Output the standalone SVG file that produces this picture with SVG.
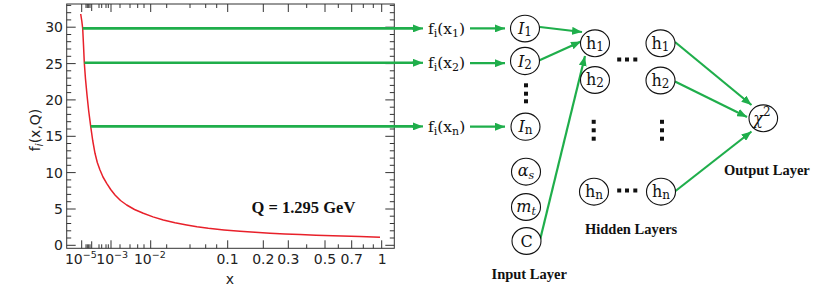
<svg xmlns="http://www.w3.org/2000/svg" width="830" height="292" viewBox="0 0 830 292">
<style>
.ax{fill:none;stroke:#333;stroke-width:1}
.tk{font-family:"DejaVu Sans",sans-serif;font-size:14px;fill:#222}
.g{fill:none;stroke:#1fae4b;stroke-width:2.6}
.ga{fill:none;stroke:#1fae4b;stroke-width:2.2;marker-end:url(#ah)}
.nd{fill:#fff;stroke:#111;stroke-width:1.1}
.nl{font-family:"DejaVu Serif",serif;font-size:16px;fill:#111;text-anchor:middle}
.fl{font-family:"DejaVu Serif",serif;font-size:15.5px;fill:#111}
.bl{font-family:"Liberation Serif","Times New Roman",serif;font-weight:bold;font-size:14.5px;fill:#111}
.dt{fill:#111}
</style>
<defs>
<marker id="ah" markerUnits="userSpaceOnUse" markerWidth="10" markerHeight="8" viewBox="0 0 10 8" refX="10" refY="4" orient="auto" preserveAspectRatio="none">
<path d="M0,0 L10,4 L0,8 z" fill="#1fae4b"/>
</marker>
</defs>

<g id="plot">
<rect class="ax" x="66.7" y="4" width="327.6" height="244.3"/>
<path class="ax" d="M66.7,245.3h9M66.7,209h9M66.7,172.6h9M66.7,136.3h9M66.7,99.9h9M66.7,63.6h9M66.7,27.2h9
M394.3,245.3h-9M394.3,209h-9M394.3,172.6h-9M394.3,136.3h-9M394.3,99.9h-9M394.3,63.6h-9M394.3,27.2h-9"/>
<path class="ax" d="M66.7,238h4.5M66.7,230.8h4.5M66.7,223.5h4.5M66.7,216.2h4.5M66.7,201.7h4.5M66.7,194.4h4.5M66.7,187.1h4.5M66.7,179.9h4.5M66.7,165.3h4.5M66.7,158.1h4.5M66.7,150.8h4.5M66.7,143.5h4.5M66.7,129h4.5M66.7,121.7h4.5M66.7,114.4h4.5M66.7,107.2h4.5M66.7,92.6h4.5M66.7,85.4h4.5M66.7,78.1h4.5M66.7,70.8h4.5M66.7,56.3h4.5M66.7,49h4.5M66.7,41.7h4.5M66.7,34.5h4.5M66.7,19.9h4.5M66.7,12.7h4.5M66.7,5.4h4.5
M394.3,238h-4.5M394.3,230.8h-4.5M394.3,223.5h-4.5M394.3,216.2h-4.5M394.3,201.7h-4.5M394.3,194.4h-4.5M394.3,187.1h-4.5M394.3,179.9h-4.5M394.3,165.3h-4.5M394.3,158.1h-4.5M394.3,150.8h-4.5M394.3,143.5h-4.5M394.3,129h-4.5M394.3,121.7h-4.5M394.3,114.4h-4.5M394.3,107.2h-4.5M394.3,92.6h-4.5M394.3,85.4h-4.5M394.3,78.1h-4.5M394.3,70.8h-4.5M394.3,56.3h-4.5M394.3,49h-4.5M394.3,41.7h-4.5M394.3,34.5h-4.5M394.3,19.9h-4.5M394.3,12.7h-4.5M394.3,5.4h-4.5"/>
<path class="ax" d="M81.7,248.3v-8M91.7,248.3v-7M111,248.3v-8M150.7,248.3v-8M227.7,248.3v-8M263.3,248.3v-8M288.3,248.3v-8M325,248.3v-8M351.7,248.3v-8M381.7,248.3v-8
M81.7,4v8M91.7,4v7M111,4v8M150.7,4v8M227.7,4v8M263.3,4v8M288.3,4v8M325,4v8M351.7,4v8M381.7,4v8"/>
<path class="ax" d="M86,248.3v-4M87.3,248.3v-4M88.7,248.3v-4M90,248.3v-4M99,248.3v-4M101.7,248.3v-4M106,248.3v-4M108.3,248.3v-4M120,248.3v-4M130,248.3v-4M137.7,248.3v-4M144,248.3v-4M166.7,248.3v-4M190,248.3v-4M205.7,248.3v-4M216.7,248.3v-4M306.7,248.3v-4M338.3,248.3v-4M363.3,248.3v-4M373.3,248.3v-4
M86,4v4M87.3,4v4M88.7,4v4M90,4v4M99,4v4M101.7,4v4M106,4v4M108.3,4v4M120,4v4M130,4v4M137.7,4v4M144,4v4M166.7,4v4M190,4v4M205.7,4v4M216.7,4v4M306.7,4v4M338.3,4v4M363.3,4v4M373.3,4v4"/>
<g class="tk" text-anchor="end">
<text x="63" y="250.3">0</text>
<text x="63" y="214">5</text>
<text x="63" y="177.6">10</text>
<text x="63" y="141.3">15</text>
<text x="63" y="104.9">20</text>
<text x="63" y="68.6">25</text>
<text x="63" y="32.2">30</text>
</g>
<g class="tk" text-anchor="middle">
<text x="80.8" y="263.5">10<tspan font-size="9.5" dy="-6">−5</tspan></text>
<text x="112.2" y="263.5">10<tspan font-size="9.5" dy="-6">−3</tspan></text>
<text x="149.8" y="263.5">10<tspan font-size="9.5" dy="-6">−2</tspan></text>
<text x="227.6" y="263.5">0.1</text>
<text x="263.3" y="263.5">0.2</text>
<text x="288.3" y="263.5">0.3</text>
<text x="325" y="263.5">0.5</text>
<text x="351.7" y="263.5">0.7</text>
<text x="382.3" y="263.5">1</text>
</g>
<text class="tk" x="230" y="284" text-anchor="middle" font-size="16">x</text>
<text class="tk" transform="translate(40,130) rotate(-90)" text-anchor="middle" font-size="16">f<tspan font-size="11" font-style="italic" dy="3">i</tspan><tspan dy="-3">(x,Q)</tspan></text>
<polyline fill="none" stroke="#e8202a" stroke-width="1.5" stroke-linejoin="round" points="80.7,14 81.8,21 82.7,28.5 83.5,45 84.3,62.7 85.5,79 87,95 88.7,111 90.7,126.3 92.7,140.5 95,153.3 97.3,162.5 100,170 103,177 106.7,183.3 110.7,189.5 115,195 120.5,200.5 126.7,205 134.5,209.5 143.3,213.3 153,216.9 163.3,220 175,222.8 186.7,225 197,226.8 208.3,228.3 224,229.9 240,231.2 255,232.3 270,233.3 285,234 300,234.6 316,235.2 333,235.7 360,236.6 380,237.3"/>
<text x="251.5" y="213" font-family="Liberation Serif,'Times New Roman',serif" font-weight="bold" font-size="16.5" fill="#111">Q = 1.295 GeV</text>
</g>

<g id="connectors">
<line class="g" x1="82.7" y1="28.4" x2="414" y2="28.4"/>
<line class="g" x1="84.3" y1="62.8" x2="414" y2="62.8"/>
<line class="g" x1="90.7" y1="126.4" x2="414" y2="126.4"/>
<line class="ga" x1="412" y1="28.4" x2="423" y2="28.4"/>
<line class="ga" x1="412" y1="62.8" x2="423" y2="62.8"/>
<line class="ga" x1="412" y1="126.4" x2="423" y2="126.4"/>
<line class="ga" x1="470" y1="28.4" x2="505" y2="28.4"/>
<line class="ga" x1="470" y1="63.2" x2="505" y2="63.2"/>
<line class="ga" x1="470" y1="126.7" x2="505" y2="126.7"/>
<line class="ga" x1="540" y1="27" x2="582" y2="32"/>
<line class="ga" x1="539" y1="60.5" x2="581" y2="41.5"/>
<line class="ga" x1="540" y1="240" x2="585" y2="56"/>
<line class="ga" x1="675" y1="42" x2="751.5" y2="105"/>
<line class="ga" x1="675" y1="81.5" x2="747" y2="117"/>
<line class="ga" x1="675.5" y1="191" x2="751.5" y2="131.5"/>
</g>

<g id="inputs-text">
<text class="fl" x="428" y="33.5">f<tspan font-size="11" dy="3">i</tspan><tspan dy="-3">(x</tspan><tspan font-size="11" dy="3">1</tspan><tspan dy="-3">)</tspan></text>
<text class="fl" x="428" y="68">f<tspan font-size="11" dy="3">i</tspan><tspan dy="-3">(x</tspan><tspan font-size="11" dy="3">2</tspan><tspan dy="-3">)</tspan></text>
<text class="fl" x="428" y="131.5">f<tspan font-size="11" dy="3">i</tspan><tspan dy="-3">(x</tspan><tspan font-size="11" dy="3">n</tspan><tspan dy="-3">)</tspan></text>
</g>

<g id="node-I1"><ellipse class="nd" cx="525" cy="28.6" rx="14.5" ry="13.3"/><text class="nl" x="525" y="34"><tspan font-style="italic">I</tspan><tspan font-size="12" dy="2">1</tspan></text></g>
<g id="node-I2"><ellipse class="nd" cx="525" cy="61" rx="14.5" ry="13.6"/><text class="nl" x="525" y="66.5"><tspan font-style="italic">I</tspan><tspan font-size="12" dy="2">2</tspan></text></g>
<g id="input-dots" class="dt"><rect x="524" y="83.3" width="4" height="4"/><rect x="524" y="91.7" width="4" height="4"/><rect x="524" y="99.3" width="4" height="4"/></g>
<g id="node-In"><ellipse class="nd" cx="525.5" cy="126.7" rx="14.5" ry="13.6"/><text class="nl" x="525.5" y="132"><tspan font-style="italic">I</tspan><tspan font-size="12" dy="2">n</tspan></text></g>
<g id="node-as"><ellipse class="nd" cx="526" cy="171.7" rx="14.5" ry="13.4"/><text class="nl" x="526" y="176" font-style="italic">α<tspan font-size="11" dy="3">s</tspan></text></g>
<g id="node-mt"><ellipse class="nd" cx="526" cy="207" rx="14.5" ry="13.4"/><text class="nl" x="526" y="211.5" font-style="italic">m<tspan font-size="11" dy="3">t</tspan></text></g>
<g id="node-C"><ellipse class="nd" cx="526.5" cy="241" rx="14.5" ry="13.4"/><text class="nl" x="526.5" y="246.5">C</text></g>
<text id="label-input" class="bl" x="491.5" y="278.5">Input Layer</text>

<g id="node-h1a"><ellipse class="nd" cx="595" cy="43.3" rx="14.5" ry="13.4"/><text class="nl" x="595" y="48.5">h<tspan font-size="12" dy="2">1</tspan></text></g>
<g id="node-h2a"><ellipse class="nd" cx="595" cy="80" rx="14.5" ry="13.4"/><text class="nl" x="595" y="85.2">h<tspan font-size="12" dy="2">2</tspan></text></g>
<g id="node-hna"><ellipse class="nd" cx="594" cy="191.7" rx="14.5" ry="13.4"/><text class="nl" x="594" y="196.9">h<tspan font-size="12" dy="2">n</tspan></text></g>
<g id="node-h1b"><ellipse class="nd" cx="660.5" cy="43.3" rx="14.5" ry="13.4"/><text class="nl" x="660.5" y="48.5">h<tspan font-size="12" dy="2">1</tspan></text></g>
<g id="node-h2b"><ellipse class="nd" cx="660.5" cy="80.5" rx="14.5" ry="13.4"/><text class="nl" x="660.5" y="85.7">h<tspan font-size="12" dy="2">2</tspan></text></g>
<g id="node-hnb"><ellipse class="nd" cx="661" cy="191.7" rx="14.5" ry="13.4"/><text class="nl" x="661" y="196.9">h<tspan font-size="12" dy="2">n</tspan></text></g>
<g id="hidden-dots" class="dt">
<rect x="617.2" y="57.5" width="4" height="4"/><rect x="625" y="57.5" width="4" height="4"/><rect x="633.3" y="57.5" width="4" height="4"/>
<rect x="617.2" y="188.5" width="4" height="4"/><rect x="625" y="188.5" width="4" height="4"/><rect x="633.3" y="188.5" width="4" height="4"/>
<rect x="591.7" y="119.8" width="4" height="4"/><rect x="591.7" y="128.3" width="4" height="4"/><rect x="591.7" y="136.7" width="4" height="4"/>
<rect x="660" y="119.8" width="4" height="4"/><rect x="660" y="128.3" width="4" height="4"/><rect x="660" y="136.7" width="4" height="4"/>
</g>
<text id="label-hidden" class="bl" x="585" y="233.5">Hidden Layers</text>

<g id="node-chi"><ellipse class="nd" cx="763.3" cy="118.3" rx="14.3" ry="13.4"/><text class="nl" x="762" y="124" font-style="italic">χ<tspan font-style="normal" font-size="12" dy="-8">2</tspan></text></g>
<text id="label-output" class="bl" x="724" y="175">Output Layer</text>
</svg>
